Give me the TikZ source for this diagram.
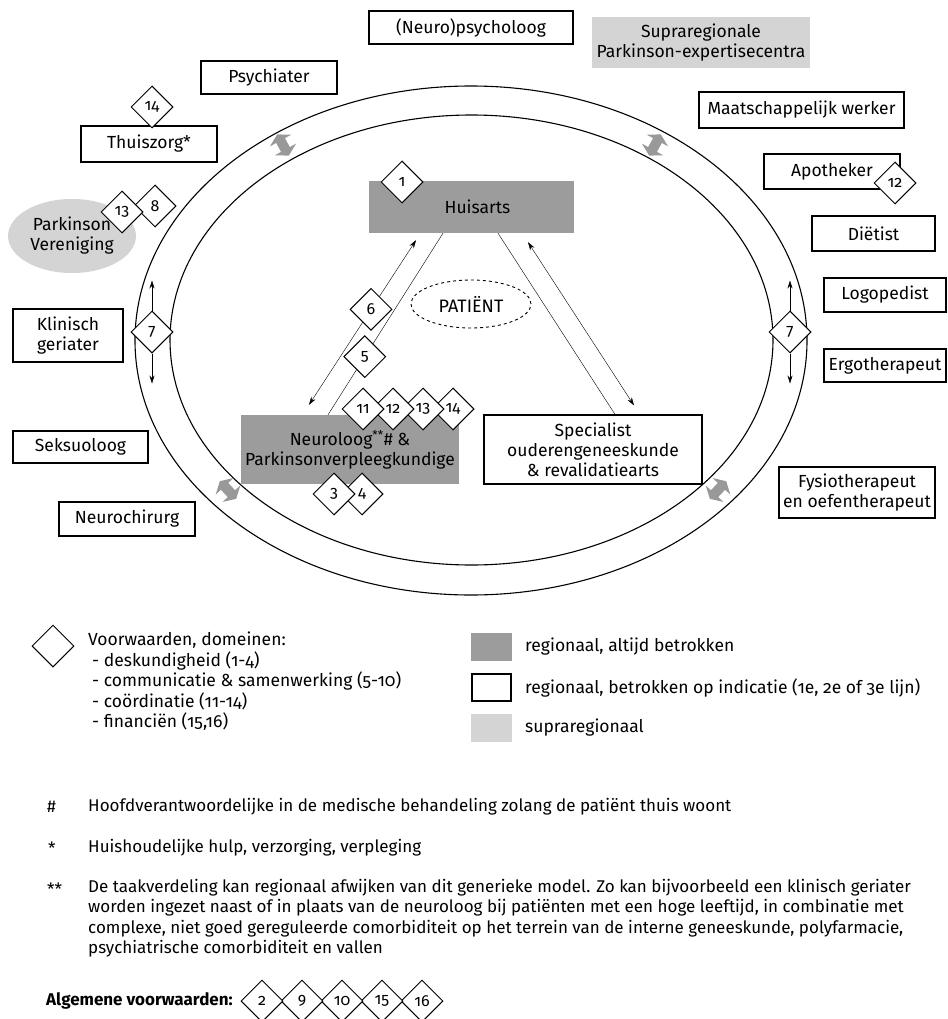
\documentclass[tikz,border=0pt]{standalone}
\usepackage{fontspec}
\setmainfont{Fira Sans}[Numbers=OldStyle]
\usetikzlibrary{positioning,shapes.geometric,arrows.meta,calc}
\definecolor{regiogray}{RGB}{156,156,156}
\definecolor{supragray}{RGB}{212,212,212}

\begin{document}
\begin{tikzpicture}[x=1pt, y=-1pt,
    >={Stealth[length=8pt,width=5pt]},
    every node/.style={font=\fontsize{17.5}{20}\selectfont},
    box/.style={draw, line width=1.2pt, fill=white, align=center, inner sep=0pt},
    regio/.style={fill=regiogray, align=center, inner sep=0pt},
    supra/.style={fill=supragray, align=center, inner sep=0pt},
    dia/.style={diamond, draw, line width=1pt, fill=white, minimum width=42pt, minimum height=42pt, inner sep=0pt, font=\fontsize{16}{16}\selectfont},
    ring/.style={line width=1.1pt},
    ringarrow/.style={draw=black!40, line width=10pt, {Triangle[length=7pt,width=24pt]}-{Triangle[length=7pt,width=24pt]}},
    note/.style={anchor=west, inner sep=0pt, font=\fontsize{17}{20.5}\selectfont}]
    \path[use as bounding box, fill=white] (0,0) rectangle (947,1019);

    % Rings
    \draw[ring] (471,340.5) ellipse [x radius=336, y radius=254.5];
    \draw[ring] (471.5,340) ellipse [x radius=301.5, y radius=225];
    \draw[ringarrow] (277.2,134.4) -- (288.8,155.6);
    \draw[ringarrow] (660.8,134.4) -- (649.2,155.6);
    \draw[ringarrow] (219.8,481.2) -- (236.2,498.8);
    \draw[ringarrow] (726.2,481.2) -- (709.8,498.8);

    % Outer circle of care
    \node[box, minimum width=204pt, minimum height=33pt] (psycho) at (471,27.5) {(Neuro)psycholoog};
    \node[supra, minimum width=218pt, minimum height=51pt] (supra) at (701,42.5) {Supraregionale\\Parkinson-expertisecentra};
    \node[box, minimum width=136pt, minimum height=33pt] (psychiater) at (269,77.5) {Psychiater};
    \node[box, minimum width=136pt, minimum height=36pt] (thuiszorg) at (149,144) {Thuiszorg*};
    \node[dia] (d14a) at (152,107) {14};
    \node[ellipse, fill=supragray, minimum width=128pt, minimum height=74pt, inner sep=0pt, align=center] (pv) at (72,236) {Parkinson\\Vereniging};
    \node[dia] (d8) at (155,206) {8};
    \node[dia] (d13a) at (122,212) {13};
    \node[box, minimum width=110pt, minimum height=53pt] (klinisch) at (68,335.5) {Klinisch\\geriater};
    \node[box, minimum width=135pt, minimum height=32pt] (seksuoloog) at (80.5,447) {Seksuoloog};
    \node[box, minimum width=136pt, minimum height=34pt] (neurochir) at (127,519) {Neurochirurg};
    \node[box, minimum width=205pt, minimum height=36pt] (maatsch) at (801.5,110) {Maatschappelijk werker};
    \node[box, minimum width=136pt, minimum height=35pt] (apotheker) at (832,171.5) {Apotheker};
    \node[dia] (d12a) at (895,183) {12};
    \node[box, minimum width=123pt, minimum height=35pt] (dietist) at (873.5,233.5) {Diëtist};
    \node[box, minimum width=122pt, minimum height=34pt] (logo) at (885,295) {Logopedist};
    \node[box, minimum width=122pt, minimum height=33pt] (ergo) at (885,365.5) {Ergotherapeut};
    \node[box, minimum width=156pt, minimum height=51pt] (fysio) at (857,492.5) {Fysiotherapeut\\en oefentherapeut};

    % Arrows across the ring
    \node[dia] (d7l) at (152,332) {7};
    \draw[->] (d7l.north) -- ++(0,-30);
    \draw[->] (d7l.south) -- ++(0,30);
    \node[dia] (d7r) at (790,332) {7};
    \draw[->] (d7r.north) -- ++(0,-30);
    \draw[->] (d7r.south) -- ++(0,30);

    % Core triangle
    \node[regio, minimum width=205pt, minimum height=52pt] (huisarts) at (471.5,207) {\hspace{12pt}Huisarts};
    \node[dia] (d1) at (402,182) {1};
    \node[ellipse, draw, dashed, line width=0.9pt, minimum width=120pt, minimum height=48pt, inner sep=0pt, font=\fontsize{18}{20}\selectfont] (patient) at (471,304) {PATIËNT};
    \node[regio, minimum width=218pt, minimum height=69pt] (neuro) at (350,449.5) {Neuroloog\textsuperscript{**}\# \&\\Parkinsonverpleegkundige};
    \node[box, minimum width=218pt, minimum height=69pt] (spec) at (593,449.5) {Specialist\\ouderengeneeskunde\\\& revalidatiearts};
    \foreach \n/\x in {14/453,13/423,12/393,11/363}
        \node[dia] (dn\n) at (\x,409) {\n};
    \node[dia] (d4) at (362,494) {4};
    \node[dia] (d3) at (334,494) {3};

    \draw[<->] ([shift={(-55.5,7)}]huisarts.south) -- node[dia, pos=0.42] (d6) {6} ([shift={(-41,-10)}]neuro.north);
    \draw ([shift={(-28.5,0)}]huisarts.south) -- node[dia, pos=0.68] (d5) {5} ([shift={(-22,0)}]neuro.north);
    \draw ([shift={(26.5,0)}]huisarts.south) -- ([shift={(22,0)}]spec.north);
    \draw[<->] ([shift={(56.5,9)}]huisarts.south) -- ([shift={(41,-9)}]spec.north);

    % Legend
    \node[dia] (legdia) at (53,646) {};
    \node[anchor=north west, align=left, inner sep=0pt, font=\fontsize{17.5}{20.5}\selectfont] (legtext) at (88,632)
        {Voorwaarden, domeinen:\\
         \hspace{4pt}- deskundigheid (1-4)\\
         \hspace{4pt}- communicatie \& samenwerking (5-10)\\
         \hspace{4pt}- coördinatie (11-14)\\
         \hspace{4pt}- financiën (15,16)};
    \node[regio, minimum width=41pt, minimum height=28pt] (legregio) at (491.5,647) {};
    \node[draw, line width=1.5pt, minimum width=39pt, minimum height=27pt, inner sep=0pt] (legind) at (491.5,687.5) {};
    \node[supra, minimum width=41pt, minimum height=28pt] (legsupra) at (491.5,728) {};
    \node[anchor=west, inner sep=0pt] (legregiot) at (525,647) {regionaal, altijd betrokken};
    \node[anchor=west, inner sep=0pt] (legindt) at (525,688) {regionaal, betrokken op indicatie (1e, 2e of 3e lijn)};
    \node[anchor=west, inner sep=0pt] (legsuprat) at (525,728) {supraregionaal};

    % Footnotes
    \node[note] (hashsym) at (47,807) {\#};
    \node[note] (hashtext) at (88,807) {Hoofdverantwoordelijke in de medische behandeling zolang de patiënt thuis woont};
    \node[note] (starsym) at (48,848) {*};
    \node[note] (startext) at (88,848) {Huishoudelijke hulp, verzorging, verpleging};
    \node[note] (dstarsym) at (47,889) {**};
    \node[note, anchor=north west, align=left] (dstartext) at (88,879)
        {De taakverdeling kan regionaal afwijken van dit generieke model. Zo kan bijvoorbeeld een klinisch geriater\\
         worden ingezet naast of in plaats van de neuroloog bij patiënten met een hoge leeftijd, in combinatie met\\
         complexe, niet goed gereguleerde comorbiditeit op het terrein van de interne geneeskunde, polyfarmacie,\\
         psychiatrische comorbiditeit en vallen};
    \node[note, font=\bfseries\fontsize{17}{20}\selectfont] (algemeen) at (46,1001) {Algemene voorwaarden:};
    \foreach \n/\x in {16/422,15/382,10/342,9/302,2/262}
        \node[dia, minimum width=42pt, minimum height=42pt] (dg\n) at (\x,1001) {\n};
\end{tikzpicture}
\end{document}
